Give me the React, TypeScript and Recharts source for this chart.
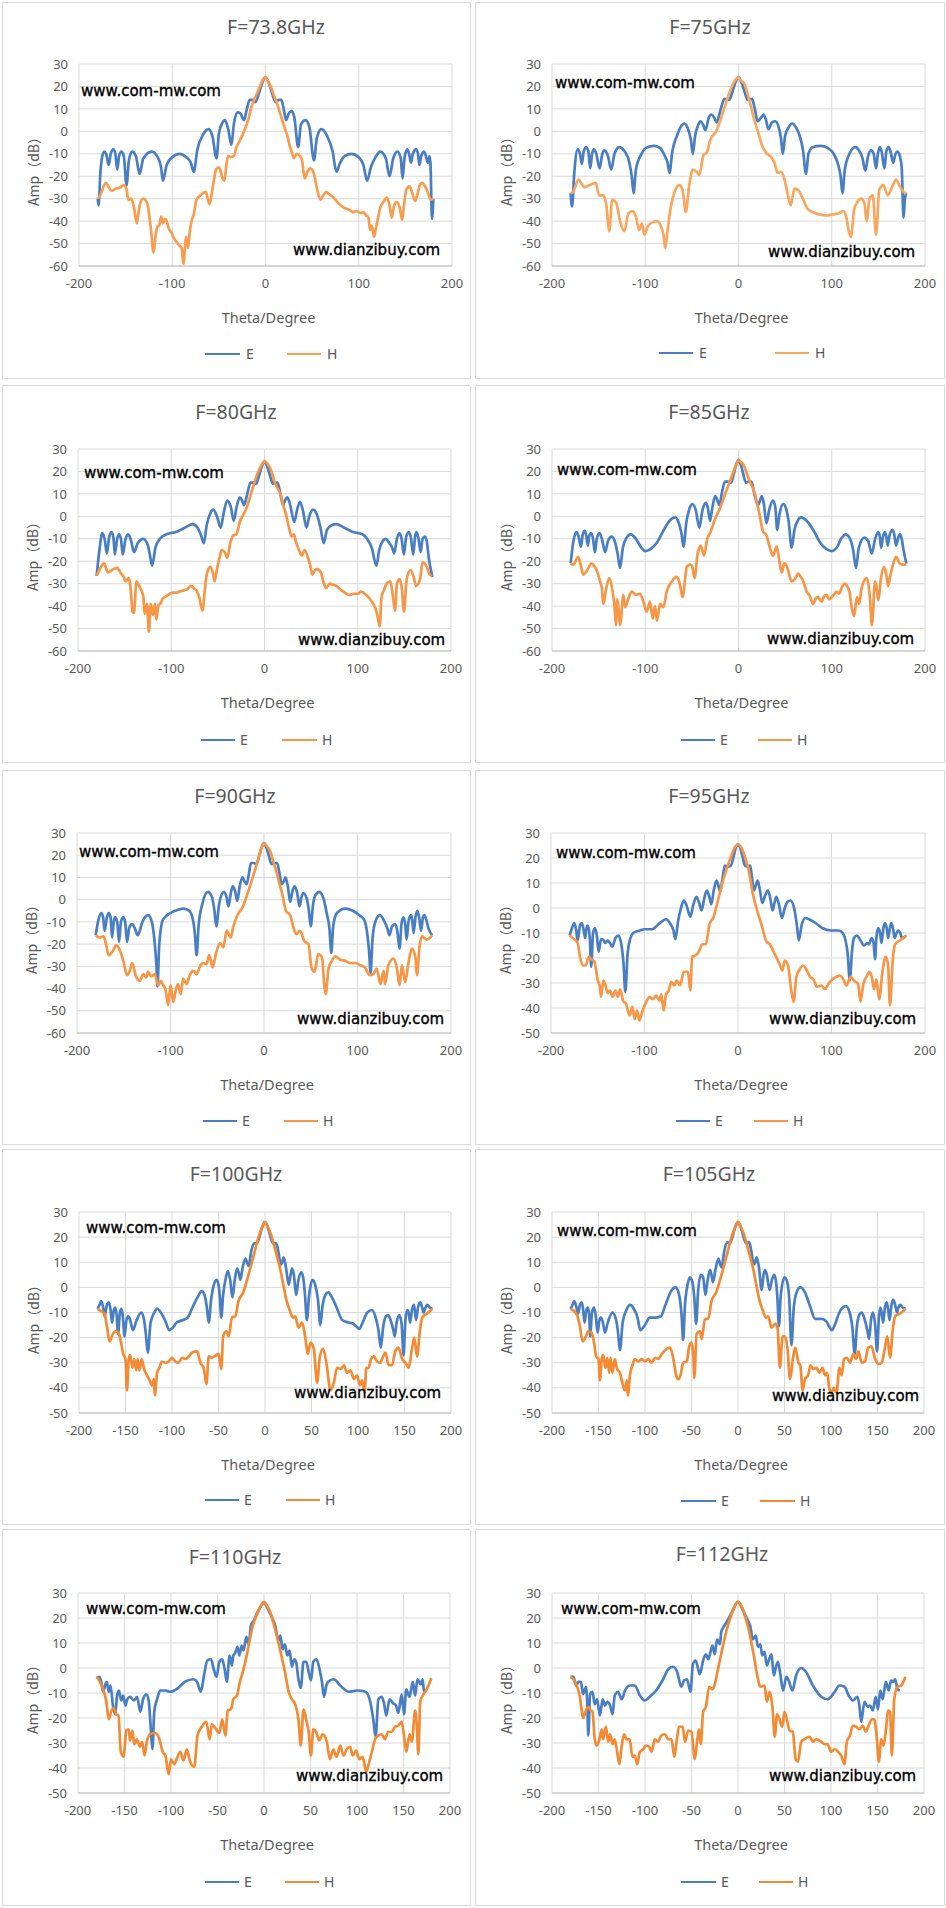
import React from 'react';
import { LineChart, Line, XAxis, YAxis, CartesianGrid } from 'recharts';

type Pt = [number, number];

// ---------- DATA (theta in degrees, amplitude in dB) ----------
const e738: Pt[] = [[-180,-30],[-179,-33],[-177,-18],[-175,-11],[-173,-9],[-171,-10],[-168,-15],[-166,-10],[-163,-8],[-161,-10],[-159,-17],[-157,-11],[-154.5,-9],[-152,-11],[-149,-24],[-146.5,-13],[-143,-9],[-139,-11],[-135,-19],[-131,-12],[-122,-9],[-115,-12],[-112,-16],[-110,-22],[-106,-15],[-100,-11.5],[-92,-10],[-85,-11.5],[-80,-14],[-77,-18],[-73,-8],[-67,-1.5],[-61,1],[-57,-2],[-52.5,-12],[-50,-1],[-46,4],[-43.5,5],[-40,1],[-36.5,-6],[-34,3],[-30,8.5],[-27,8],[-23,5],[-20,10],[-17,14],[-14,14],[-11,13],[-7,17],[-4,21],[0,24],[4,21],[7,17],[11,13],[14,14],[17,14],[19.5,10],[22,5],[25,8],[28,9],[31,6],[35,-7],[38,3],[43,5],[47,2],[52,-13],[55,-3],[60,1],[66,-2],[72,-9],[76,-18],[80,-14],[85,-11],[92,-10],[100,-11.5],[105,-15],[109,-22],[113,-16],[118,-11.5],[123,-9],[129,-12],[133,-20],[137,-12],[141.5,-9],[145,-12],[147,-21],[149,-12],[152,-8],[154,-10],[156,-14],[158,-10],[161.5,-8],[163.5,-10],[165,-15],[167,-11],[170,-9],[172,-11],[174,-14],[176,-11],[177,-15],[178.5,-39],[180,-30]];
const h738: Pt[] = [[-180,-30],[-178,-29],[-171,-23],[-168,-25],[-165,-26.5],[-160,-25.5],[-156,-25],[-152,-24],[-149,-26],[-147,-30.5],[-144,-30],[-141,-34],[-138,-41],[-135,-33],[-131,-30],[-128,-31],[-126,-33.5],[-123,-43],[-120,-54],[-118,-47],[-116,-42.5],[-114,-42],[-112,-38],[-110,-41],[-108,-39],[-106,-40],[-104,-43],[-101,-45],[-99,-47],[-96,-49],[-92,-51],[-90,-52],[-88,-59],[-86,-50],[-85,-47],[-83,-52],[-81,-44],[-79,-39.5],[-77,-37],[-74,-30.5],[-71,-29],[-67,-27.5],[-64,-27],[-62,-30],[-60,-32.5],[-57,-26],[-55,-21],[-53,-17],[-50,-16],[-48,-18],[-46,-21],[-44,-22],[-42,-15],[-40,-11],[-37,-11.5],[-34,-11],[-31,-7],[-28,-4.5],[-25,-2],[-22,1],[-18,6],[-15,11],[-10,16],[-6,20],[-2,23.5],[0,24],[3,22],[6,19.5],[9,16],[12,13],[15,9],[18,5],[21,1],[23.5,-2],[26,-6.5],[28,-9],[30.5,-12],[33.5,-10],[36,-10.5],[39,-12.5],[42,-21],[45,-18],[48,-16.5],[50,-17],[52,-19],[55,-25],[59,-30.5],[62,-28.5],[65,-27],[68,-28],[73,-29.5],[78,-32],[84,-34],[90,-35],[94,-36],[98,-35.5],[102,-36.5],[105,-36],[108,-37.5],[110.5,-38.5],[112,-44],[114,-42],[116.5,-47],[118,-44],[120,-40],[123,-34],[126.5,-31.5],[130,-29.5],[133,-33],[135.5,-38.5],[138,-33],[141,-31.5],[144,-34],[146.5,-39.5],[148.5,-33],[151,-26],[154.5,-24.5],[157,-27],[160.5,-31],[163,-28],[166,-23.5],[168,-23],[171,-24.5],[174,-27],[177,-30.5],[180,-30]];

const e75: Pt[] = [[-180,-27.5],[-178.5,-33.5],[-176,-18],[-172.5,-8],[-170,-10],[-168,-14.5],[-166,-9],[-163.5,-7],[-161,-9],[-159,-16.5],[-157,-10],[-155,-8],[-152.5,-10],[-149,-16.5],[-146,-10],[-144,-8.5],[-140,-11],[-136.5,-17],[-133,-10],[-128,-7],[-122,-9],[-117,-14],[-114.5,-20],[-112.5,-27.5],[-110,-17],[-104,-10],[-97,-7],[-90,-6.5],[-84,-7.5],[-79,-11],[-76,-14],[-74,-18.5],[-71,-9],[-66,-2],[-62,2],[-58,3.5],[-54,1],[-51,-4],[-49,-10],[-46.5,-2],[-43,3],[-41,4.5],[-38,3],[-35.5,0.5],[-32,6],[-29,7.5],[-26,6],[-23.5,4],[-19,10],[-15,14.5],[-10,14],[-7,17],[-3.5,21.5],[0,24],[3.5,21.5],[7,17],[10,14],[14.5,14.5],[17.5,10],[20.5,4.5],[24,6],[27,7.5],[29.5,5],[32,1],[36,4],[39.5,4.5],[43,2],[45.5,-3],[47.5,-10],[50,-2],[54,2],[57.5,3.5],[62,1.5],[66,-2.5],[69,-8],[72.5,-19],[75,-10],[80,-7],[88,-6.5],[96,-7.5],[102,-10],[107,-15],[109.5,-20],[111.5,-27.5],[114,-17],[119,-10],[125,-7],[130,-9],[133,-12],[136,-17.5],[139,-11],[142,-8.5],[145,-10],[147.5,-16.5],[149.5,-10],[151.5,-7],[153.5,-9],[156.5,-16.5],[158.5,-9],[161,-7],[163,-9],[166,-14],[168,-10.5],[170.5,-9],[173,-11],[175,-16],[177,-38.5],[178.5,-30],[180,-27.5]];
const h75: Pt[] = [[-180,-27.5],[-177.5,-27],[-171.5,-21.5],[-168,-23.5],[-165.5,-25],[-160,-24],[-153,-23],[-149.5,-28.5],[-145,-28.5],[-142,-32],[-138.5,-44.5],[-135.5,-30.5],[-131.5,-31.5],[-127,-40],[-122.5,-44.5],[-118,-36.5],[-113.5,-35.5],[-110,-38],[-106.5,-44],[-103.5,-41],[-101,-46],[-97.5,-42.5],[-92,-40.5],[-87,-40],[-83,-42.5],[-80.5,-46],[-78.5,-52],[-76,-44],[-72.5,-33.5],[-69,-27.5],[-63.5,-24],[-60,-26],[-56.5,-36],[-53,-24.5],[-49,-17],[-45,-18],[-42,-19.5],[-37.5,-10.5],[-34,-9.5],[-30.5,-4],[-24,0],[-17,8],[-10,17],[-4,22.5],[0,24],[3,22.5],[6.5,21],[11.5,14],[17,5],[21.5,-1],[25,-6],[29.5,-9.5],[34,-11],[38.5,-14],[42,-18.5],[45.5,-18],[49,-21],[52.5,-27.5],[56,-33],[60,-25.5],[63.5,-26],[69,-30],[74,-34.5],[79.5,-36],[86.5,-37],[94,-37.5],[101,-37],[108,-36.5],[112.5,-35.5],[115.5,-38],[118,-44],[120.5,-47],[124,-35],[127.5,-31.5],[131.5,-30],[135,-32],[137.5,-40],[140.5,-30],[144,-28.5],[147.5,-46],[151,-26],[155.5,-24],[160,-28.5],[165.5,-24],[169,-21.5],[173,-24.5],[177,-27],[180,-27.5]];

const e80: Pt[] = [[-180,-26.5],[-177,-15],[-174,-7.5],[-171.5,-10],[-169,-16.5],[-166.5,-9],[-164,-7],[-162,-9.5],[-160.5,-17],[-158,-10],[-156,-8],[-154,-10],[-152,-17],[-149,-10],[-146,-8],[-143,-11],[-140,-16],[-136,-12],[-130,-10],[-125,-13],[-123,-17],[-120.5,-22],[-117,-14],[-112,-10],[-105,-8],[-95,-7],[-85,-5],[-77,-3.5],[-72,-5],[-68,-8.5],[-65,-12],[-62,-4],[-58,1.5],[-55,3],[-51,0],[-47,-5],[-44,1],[-40,7],[-36,4],[-33,-2],[-30,4],[-26.5,8.5],[-24,7],[-22,5],[-19,9],[-15,15],[-12,15],[-9,14.5],[-6,18],[-3,22],[0,24.5],[3,22],[6,18],[9,14.5],[11.5,15],[14,15],[17,10],[20,5],[22,7],[24.5,8.5],[27,6],[32,-2.5],[35,3],[38,6.5],[41,3],[45,-5],[48,0],[52,3],[56,1],[60,-5],[63.5,-12],[67,-6],[72,-4],[77,-3.5],[85,-5],[95,-7],[105,-8],[110,-10],[115,-14],[120,-22],[123,-15],[126,-11.5],[130,-10],[134,-12],[137,-14],[139,-16.5],[142,-10],[145,-7.5],[147,-10],[149.5,-17],[152,-9],[155,-7],[157,-9.5],[159.5,-17],[161.5,-9],[163,-7],[165,-9.5],[167.5,-16],[169.5,-10],[172,-9],[174,-11],[176,-18],[180,-27]];
const h80: Pt[] = [[-180,-26.5],[-176,-23],[-172,-21],[-168,-25],[-164,-24],[-158,-23],[-154.5,-25],[-151,-27],[-149,-29],[-145.5,-27.5],[-143,-35],[-141.5,-42.5],[-140,-43],[-138.5,-35],[-137.5,-29],[-134.5,-31],[-130,-35.5],[-128.5,-43.5],[-126,-39],[-124,-51.5],[-122,-39],[-119.5,-44],[-117.5,-39],[-116,-46],[-114,-40],[-111,-38.5],[-109,-36.5],[-105,-35.5],[-101.5,-34.5],[-98,-34],[-94.5,-34],[-91,-33.5],[-87,-33],[-83,-32.5],[-78.5,-31],[-76,-32],[-73,-33],[-70,-36],[-66.5,-42],[-64,-33],[-62,-26],[-58,-22.5],[-55,-26],[-53.5,-29],[-51,-23.5],[-48,-18],[-46,-15],[-42.5,-16],[-40,-18.5],[-36.5,-11.5],[-33.5,-8.5],[-30,-8],[-26.5,-2.5],[-23,0.5],[-19.5,3.5],[-16,8],[-12,13.5],[-7,19.5],[-3,23],[0,24.5],[3,23.5],[6,21.5],[9,18],[11,15],[14,12.5],[17.5,9.5],[20,5],[23,1],[26.5,-5.5],[29,-9],[31.5,-8],[33.5,-11],[35.5,-13.5],[38,-16],[40,-17.5],[43,-15],[47,-19],[49,-22],[51.5,-26],[54,-24],[56.5,-23.5],[60.5,-25],[63,-29],[66,-32],[70,-30],[73,-30.5],[77,-31],[81,-32.5],[84.5,-33.5],[88,-34.5],[91.5,-35],[96,-34.5],[100.5,-34.5],[103,-33.5],[106,-34],[109,-35],[112.5,-36.5],[116.5,-39],[119,-41],[121,-44],[123.5,-49],[125.5,-36],[128,-33],[131,-30],[135,-29],[137.5,-35],[140,-42],[142,-30],[145,-28],[147.5,-33],[149.5,-42.5],[152.5,-28],[156.5,-24],[160,-27],[162.5,-31],[165,-30],[167,-27.5],[169.5,-20.5],[172,-21],[174.5,-23],[177,-26],[180,-26.5]];

const e85: Pt[] = [[-180,-21],[-177,-11],[-174,-7],[-171.5,-9],[-169,-13.5],[-167,-8],[-165,-6.5],[-163.5,-8],[-161.5,-13],[-160,-8.5],[-158,-7.5],[-156,-10],[-154,-16],[-152,-10],[-149,-7.5],[-146.5,-10],[-143,-16],[-140,-11],[-136,-9],[-132,-12],[-129.5,-17],[-127,-23],[-124,-14],[-120,-9.5],[-115.5,-8],[-110,-10],[-105,-13.5],[-100,-15.5],[-94,-14.5],[-88,-12],[-80,-6],[-74,-2],[-68,-0.5],[-64,-3],[-61,-8],[-59,-13.5],[-56,-3],[-52,4],[-49.5,5.5],[-46,3],[-42,-5],[-38.5,3],[-35,6],[-33,4],[-30.5,-2],[-28,4],[-25,9],[-22.5,7],[-20.5,5],[-18,10],[-14.5,15.5],[-11,15.5],[-8,15],[-5,19],[-2.5,23],[0,25],[2.5,23],[5,19],[8,15],[11,15.5],[14,15.5],[17,10],[21,5],[23,7],[25,9],[27,6],[30,-3],[33,3],[37,7],[39.5,4],[41.5,-6],[44,1],[48,5.5],[51,3.5],[54,-3],[57,-14],[60,-6],[64,-1.5],[67,-0.5],[73,-2],[80,-6],[88,-12],[94,-14.5],[100,-15.5],[106,-13.5],[110,-10],[115,-8],[119,-9.5],[123,-15],[126,-23],[129,-14],[135,-9.5],[139,-11],[143,-16.5],[146.5,-10],[150,-7],[151.5,-9],[153,-14],[155,-9],[157,-7],[158.5,-9],[160,-13],[162,-8.5],[165,-6],[167,-8],[169,-13],[171,-10],[173,-8],[175,-10],[177,-15],[180,-21]];
const h85: Pt[] = [[-180,-21],[-177,-21.5],[-172,-18],[-169,-22],[-166.5,-26],[-163,-24.5],[-157.5,-21],[-155,-22],[-152,-24],[-148.5,-29],[-146.5,-32],[-145,-39],[-142,-32.5],[-138.5,-27.5],[-135,-33.5],[-133,-40],[-131.5,-48.5],[-130,-37],[-128.5,-42],[-127,-48.5],[-123.5,-35],[-121.5,-40.5],[-118,-36.5],[-114.5,-33.5],[-110,-35],[-105.5,-34.5],[-102,-38],[-98.5,-42.5],[-95,-38],[-92,-45.5],[-89.5,-40],[-87.5,-46.5],[-84,-39],[-80.5,-40.5],[-77,-33.5],[-71.5,-29],[-66,-27],[-63,-30],[-60,-36],[-57,-27],[-55.5,-22.5],[-52,-21.5],[-50,-22],[-47,-27.5],[-44,-17],[-40.5,-13],[-37,-17.5],[-33.5,-10],[-30,-7],[-25,-1],[-20,3.5],[-16,8],[-12.5,12],[-8,17],[-5,20.5],[-2,23.5],[0,25],[3,24],[6,22.5],[9,19],[11.5,16],[15,13],[17.5,10],[20,5.5],[22.5,1],[26,-6.5],[30,-8.5],[34,-14.5],[37,-17.5],[41,-13.5],[44,-20.5],[46.5,-25],[49,-21],[52,-22.5],[54.5,-26],[57,-29],[60.5,-28],[64,-25.5],[66,-26.5],[69.5,-29],[73,-33.5],[76,-35],[80,-39],[83,-36.5],[85.5,-36],[89,-38],[92,-35.5],[94.5,-35],[97,-37],[100,-36],[103,-34.5],[105,-33.5],[108,-34.5],[110.5,-32],[114,-30],[117,-31.5],[119,-33.5],[121.5,-41],[124,-44.5],[127,-36],[129.5,-39],[132,-32],[137.5,-27.5],[141,-36.5],[143,-48.5],[146.5,-29],[148.5,-33],[150,-37.5],[152.5,-28.5],[156,-22.5],[158.5,-26],[160.5,-31],[163,-26],[166,-21],[169,-18],[173,-21],[176,-21.5],[180,-21.5]];

const e90: Pt[] = [[-180,-16],[-177,-9],[-174,-6],[-172,-8],[-170.5,-14],[-168,-8],[-166,-6],[-164,-8],[-162.5,-17],[-160.5,-9.5],[-159,-8],[-157,-10],[-155,-19],[-153,-10],[-150.5,-8],[-148.5,-10],[-146.5,-19],[-144,-12.5],[-141,-11],[-138,-13],[-135,-16],[-130,-10],[-124,-7],[-120,-10],[-117,-19],[-115,-30],[-114,-39],[-112,-20],[-108,-9],[-100,-6],[-92,-4.5],[-86,-4],[-80,-5],[-76,-9],[-74,-15],[-72,-25],[-70,-12],[-66,-2],[-60,3.5],[-56,1.5],[-53,-5],[-51,-12],[-48,-2],[-43,3.5],[-40,1],[-38,-3],[-35.5,3],[-33.5,6],[-31,4],[-28.5,-0.5],[-26,6],[-23,10],[-20.5,8],[-18.5,7],[-16,12],[-14,16.5],[-11,16.5],[-8,16],[-5,20],[-2.5,23.5],[0,25.5],[2.5,23.5],[5,20],[8,16],[11,16.5],[14,16.5],[16.5,12],[19,7],[21,8],[23,10],[25.5,6],[28,-1],[30.5,4],[33,6],[35.5,3],[38,-3],[40,1],[42,3],[46,0],[48,-5],[50,-12],[52.5,-2],[55,2],[59,3.5],[64,0],[67,-6],[70,-13],[72,-24],[74,-12],[78,-6],[87,-4],[95,-5],[102,-7],[107,-9],[110,-14],[112.5,-24],[114,-33],[116,-18],[119,-10],[124,-7],[129,-10],[132,-13],[134,-16],[137,-12],[140,-11],[142.5,-14],[145,-22],[147,-11],[149,-8],[151,-11],[152.5,-18],[154.5,-10],[157,-7],[158.5,-9],[160,-15],[162,-8],[164,-5],[166,-8],[168,-14],[170,-8],[171.5,-7],[173.5,-9],[176,-13],[180,-16]];
const h90: Pt[] = [[-180,-16],[-176,-17],[-171.5,-16.5],[-169,-20],[-166,-25],[-161.5,-23],[-158,-20.5],[-154,-23],[-150.5,-27.5],[-146.5,-34],[-143.5,-32],[-141,-28.5],[-137,-34.5],[-133,-36.5],[-129,-33.5],[-126,-35],[-124,-32.5],[-120.5,-34.5],[-117,-33.5],[-113,-38.5],[-110,-36.5],[-108.5,-38],[-105,-41],[-102.5,-47.5],[-100,-38.5],[-97,-46],[-94.5,-41],[-92,-38],[-89,-42.5],[-86.5,-35.5],[-83,-38],[-79,-33.5],[-75.5,-32],[-72,-33.5],[-68.5,-30],[-65,-28.5],[-61.5,-29],[-58.5,-25],[-55,-30.5],[-51.5,-24.5],[-47,-19.5],[-43.5,-21.5],[-40,-14],[-35.5,-17],[-33,-12.5],[-28.5,-7],[-23,-3.5],[-17,3.5],[-11,11.5],[-5,20],[-2,24],[0,25.5],[3,24],[6.5,22],[10,17],[13,13],[16,8],[19,3.5],[23.5,-5],[28,-7],[31.5,-12.5],[34.5,-15.5],[38.5,-14],[43,-18.5],[47.5,-20],[51,-31],[54,-32.5],[58,-24.5],[62,-26],[64.5,-38.5],[66,-42.5],[69,-31],[72.5,-27.5],[76,-25.5],[81.5,-27],[87,-27.5],[92,-28.5],[97.5,-28.5],[103,-29.5],[108,-30.5],[113,-34],[117,-33.5],[120.5,-31],[124.5,-38],[128,-32],[129.5,-38],[133,-29.5],[138.5,-26.5],[142,-30.5],[145,-38.5],[147.5,-29.5],[151,-37],[154.5,-28.5],[158,-22],[162,-26],[163.5,-34],[166.5,-20.5],[169,-16.5],[174,-18],[180,-16]];

const e95: Pt[] = [[-180,-11],[-177.5,-8],[-175,-6],[-173,-9],[-171.5,-13],[-169,-7],[-167,-6],[-165,-9],[-163.5,-12],[-162,-8],[-160.5,-7],[-158.5,-12],[-157,-23.5],[-155,-10],[-153,-8],[-151,-11],[-149,-17.5],[-146.5,-12.5],[-144.5,-12.5],[-142,-14],[-139.5,-13],[-137,-14],[-134.5,-15.5],[-131,-12],[-128,-11],[-125,-14],[-122.5,-22],[-120.5,-33.5],[-118,-18],[-115,-12],[-112,-10],[-105,-9],[-100,-8.5],[-92,-8.5],[-85,-6.5],[-77,-4.5],[-72,-6.5],[-69,-9],[-67,-12.5],[-64,-5],[-61,0],[-58,3],[-55,1],[-51,-3.5],[-48,1],[-44.5,4.5],[-41.5,2],[-39,-1],[-36,4],[-33.5,7],[-31,5],[-28.5,1.5],[-26,7],[-23,11],[-21,9],[-19,6.5],[-16.5,12],[-14,17],[-11,16.5],[-7.5,17],[-4.5,21],[-2,24.5],[0,25.5],[2,24.5],[4.5,21],[7.5,17],[10.5,16.5],[13,17],[15,12],[17,7],[19,9],[21,11],[23.5,7],[26,2],[29,5],[32,7],[34.5,4],[37,-1],[39,2],[41,4.5],[44,1],[47,-4],[50,0],[53,2.5],[56,3],[60,0],[63,-7],[65,-13],[68,-7],[72,-4],[76,-4.5],[83,-6],[90,-8],[100,-9],[108,-9],[112,-10],[115,-13],[117.5,-19],[119.5,-29],[122,-17],[124,-12],[127,-11],[131,-13],[135,-15],[138,-14],[140,-14.5],[143,-12],[145,-14],[146.5,-20.5],[148,-12],[150,-8],[152,-10],[153.5,-14],[155.5,-8],[157.5,-6],[159,-8],[160.5,-12],[162.5,-8],[164,-6],[166,-8.5],[167.5,-12],[169.5,-10],[171.5,-9],[173.5,-10],[175.5,-12],[180,-11]];
const h95: Pt[] = [[-180,-11],[-177,-12],[-171.5,-14],[-169,-19.5],[-166,-23],[-163,-23],[-159.5,-19.5],[-157,-20.5],[-153.5,-21.5],[-150,-29],[-148,-31],[-146.5,-35.5],[-144,-29],[-142,-30.5],[-139.5,-34],[-137,-33],[-134,-35.5],[-131,-33],[-128.5,-35.5],[-126,-32.5],[-123,-37],[-119.5,-38.5],[-116,-43],[-113,-39.5],[-110.5,-44.5],[-108,-41],[-105.5,-45],[-102,-41],[-98,-37.5],[-94.5,-35.5],[-91,-36.5],[-87.5,-35],[-84,-37],[-82,-34.5],[-79.5,-41],[-77,-34.5],[-74,-33],[-71.5,-29.5],[-68,-31],[-65.5,-29],[-62,-31],[-58,-25.5],[-53.5,-25.5],[-51,-33],[-49,-19.5],[-45.5,-19],[-42,-17.5],[-38,-14.5],[-34.5,-14.5],[-30.5,-6.5],[-26,-3.5],[-21.5,3],[-16,11],[-9,19],[-3,24.5],[0,25.5],[3,24.5],[5.5,22.5],[10.5,16.5],[13,12],[16,5.5],[20.5,-1],[25,-6.5],[30.5,-13.5],[34,-14.5],[37.5,-17],[42,-20.5],[44.5,-22.5],[47.5,-25],[50,-21],[53.5,-23],[57,-33],[59.5,-37.5],[62.5,-27.5],[66,-24.5],[69.5,-23],[73,-24.5],[77,-27.5],[80.5,-28.5],[84.5,-31.5],[89,-31],[93,-32.5],[96.5,-30.5],[101,-28.5],[105.5,-27.5],[109,-27],[112.5,-28.5],[116,-31],[120.5,-27.5],[124,-29],[128.5,-30.5],[131,-37.5],[134,-30.5],[137.5,-27.5],[140.5,-25.5],[143,-27.5],[145.5,-32.5],[148,-28.5],[151,-36.5],[154.5,-25.5],[158,-19.5],[160.5,-22.5],[162.5,-39],[165.5,-21],[168,-14.5],[173,-13],[177,-12],[180,-11]];

const e100: Pt[] = [[-180,-8.5],[-178,-7],[-176,-5.5],[-174,-8],[-172.5,-11.5],[-170,-7],[-168,-6],[-166,-9],[-164.5,-14],[-162.5,-9],[-161,-8],[-159.5,-11],[-158,-18.5],[-156,-10],[-154.5,-8.5],[-153,-11],[-151,-19.5],[-149,-13],[-147,-11.5],[-145,-13],[-142,-17],[-138,-13],[-133,-10],[-130,-13],[-128,-19],[-126,-26],[-123,-14],[-119,-10],[-116,-8.5],[-112,-10],[-107,-13.5],[-103,-17],[-99,-16],[-95,-14],[-88,-13],[-83,-12],[-78,-8],[-72,-3.5],[-68,-1.5],[-65,-3],[-62.5,-8],[-60.5,-14],[-58,-5],[-55,1],[-52,3],[-50,1],[-48.5,-4],[-47,-12],[-45,-3],[-42,4],[-40,6.5],[-37.5,3],[-35,-4],[-32.5,3],[-30,7.5],[-28,5.5],[-26.5,3],[-24,8],[-21,11.5],[-19,9.5],[-17.5,8.5],[-15,14],[-11.5,17.5],[-9,17.5],[-6,20],[-3,24],[0,26],[3,24],[6,20],[9,17.5],[12,17.5],[14.5,14],[17,9],[18.5,10],[20,12],[22.5,8],[25.5,1],[27.5,5],[29,7.5],[31,5],[33.5,-3],[36,3],[39,6],[41,4],[43,-3],[45,-13],[47.5,-3],[51,3],[54,1],[57,-5],[59.5,-15],[62,-7],[65,-3],[68,-2],[72,-4],[77,-8],[83,-13],[90,-14],[95,-14.5],[98,-15.5],[101.5,-16.5],[105,-14],[110,-10],[115,-9],[119,-12],[122,-17],[124.5,-24],[127,-16],[130,-11.5],[132.5,-11],[135,-13],[138,-17],[139.5,-19.5],[141.5,-14],[144.5,-11],[147,-15],[149,-27],[151,-13],[153,-9],[154.5,-10],[156,-14],[158,-9],[160,-7],[161,-9],[162.5,-13],[164.5,-8],[167,-6],[169,-8],[170.5,-10],[172.5,-8],[174.5,-7],[177,-8],[180,-8.5]];
const h100: Pt[] = [[-180,-8.5],[-176,-9.5],[-172.5,-10.5],[-170,-15.5],[-167,-21.5],[-163.5,-18.5],[-161,-17.5],[-157.5,-18],[-155,-21.5],[-152.5,-26.5],[-150,-28.5],[-148.5,-41],[-146.5,-28.5],[-145,-27],[-142.5,-32],[-140.5,-28.5],[-138.5,-33],[-137,-28.5],[-135,-33],[-132.5,-28.5],[-130,-32.5],[-127,-35],[-124,-37],[-121.5,-39],[-119.5,-36.5],[-118.5,-43],[-116,-34],[-113.5,-32],[-111,-29.5],[-107,-30],[-103.5,-29.5],[-100,-28],[-96.5,-29.5],[-93,-30],[-89,-28],[-85.5,-28.5],[-82,-27.5],[-78.5,-26],[-73,-25.5],[-69.5,-30],[-66,-32],[-63,-38.5],[-60.5,-27.5],[-57,-28],[-52.5,-27],[-50,-26.5],[-47,-32.5],[-45,-19.5],[-41.5,-17.5],[-39,-19.5],[-35.5,-12],[-32,-11.5],[-28.5,-5.5],[-23.5,-2],[-18.5,4],[-13,11.5],[-7,20],[-3,24],[0,26],[3,24],[6,21.5],[11,15],[16.5,7],[20,0.5],[23,-5],[26.5,-9],[30,-12],[32.5,-11.5],[36,-16],[40,-14],[43.5,-20.5],[46,-26.5],[49,-22],[52.5,-24.5],[56,-38],[59,-27.5],[62.5,-24.5],[66,-30],[70.5,-41],[74,-38],[77.5,-32],[81.5,-32.5],[85,-31],[88,-34],[92,-33],[95.5,-36.5],[99,-35],[102,-39],[104.5,-37],[107,-42],[109,-32],[111.5,-32],[114,-28.5],[117,-27.5],[120.5,-29.5],[124,-30],[127,-27.5],[129.5,-26],[133,-31],[136.5,-31],[140,-25.5],[143.5,-24],[147.5,-28.5],[151,-30],[154.5,-32],[158,-24.5],[160.5,-20],[163.5,-27.5],[166.5,-17.5],[169,-12],[174,-10.5],[180,-8.5]];

const e105: Pt[] = [[-180,-8.5],[-178,-7],[-176,-5.5],[-174,-7.5],[-172,-10.5],[-170,-7],[-168,-6],[-166.5,-9],[-165,-14],[-163,-9],[-161.5,-8],[-160,-11],[-159,-19.5],[-157,-10],[-155,-8],[-153,-11],[-151,-18],[-149,-13],[-147.5,-12],[-145.5,-13.5],[-143,-18],[-140,-14],[-135,-10],[-131,-13],[-129,-18],[-127,-25],[-124,-14],[-120,-9],[-116,-7],[-112,-8.5],[-108,-12],[-105,-17],[-100,-15],[-95,-12],[-88,-12],[-83,-11.5],[-78,-7],[-72,-1.5],[-67,0],[-64,-2],[-62,-6],[-60.5,-12],[-59,-21],[-57,-7],[-54,1.5],[-51.5,4],[-49,2],[-47,-4],[-45,-14.5],[-43,-2],[-40,5],[-37.5,4],[-35,-3],[-33,2],[-30,7],[-28.5,5],[-27,2],[-24,7.5],[-21,11.5],[-19,9],[-17.5,8],[-15,14],[-11.5,18],[-9,17.5],[-6,20],[-3,24],[0,26],[3,24],[6,20],[9,17.5],[12,18],[14.5,14],[17,9],[18.5,10],[20,12],[22.5,8],[25.5,-1],[27.5,5],[29,7],[31,5],[34,-1],[36.5,3],[39,5],[41,2],[42.5,-5],[44,-15.5],[46,-3],[50,4],[53,2],[55,-4],[57.5,-23],[60,-8],[63,-2],[67,0],[72,-2],[77,-7],[83,-12.5],[90,-12.5],[95,-13.5],[98,-15.5],[101,-17],[104,-15],[109,-10],[116,-7.5],[120,-10],[123,-16],[125.5,-26.5],[128,-15],[131,-10.5],[133,-10],[136,-12.5],[139,-17],[141,-20.5],[143,-13],[145,-10],[147.5,-15],[149.5,-25.5],[151.5,-12],[153,-8],[154.5,-10],[156,-14],[158,-8],[160,-6],[161.5,-9],[163,-13],[165,-7],[167,-5],[169,-7],[171,-10],[172.5,-8],[174.5,-7],[177,-8],[180,-8.5]];
const h105: Pt[] = [[-180,-8.5],[-176,-9.5],[-172.5,-11.5],[-170,-15.5],[-167,-21.5],[-163.5,-19.5],[-161,-17.5],[-157.5,-18],[-155,-21.5],[-152.5,-27.5],[-150,-28.5],[-148.5,-37],[-146.5,-28.5],[-145,-27],[-142.5,-32],[-140.5,-28],[-138.5,-34],[-137,-28],[-135,-34],[-132.5,-28.5],[-130,-32.5],[-127,-34],[-124,-38.5],[-121.5,-41],[-119.5,-37],[-118.5,-43],[-116,-34.5],[-113.5,-31],[-111,-28.5],[-107,-29.5],[-103.5,-28.5],[-100,-29.5],[-96.5,-28.5],[-93,-30],[-89,-28],[-85.5,-28.5],[-82,-26.5],[-78.5,-25],[-73,-24],[-69.5,-28.5],[-66.5,-35],[-64,-36.5],[-61.5,-34.5],[-59,-30],[-55,-29.5],[-52.5,-23.5],[-50,-22],[-48,-27],[-47,-36],[-44.5,-18.5],[-41,-17.5],[-39,-20.5],[-35.5,-12.5],[-32,-12.5],[-28.5,-5.5],[-23.5,-2],[-18.5,4],[-13,11.5],[-7,20],[-3,24],[0,26],[3,24],[6,21.5],[11,15],[16.5,7],[20,0.5],[23,-5],[26.5,-9],[30,-12],[32.5,-11.5],[36,-16],[40,-14.5],[42.5,-16],[45,-32],[48,-19.5],[50.5,-19.5],[53,-23.5],[56,-36.5],[59,-28.5],[61.5,-24],[65,-30],[67,-31],[69.5,-41],[72,-36.5],[75.5,-35],[78,-31],[81,-32.5],[84.5,-32],[87.5,-34],[91,-32],[93.5,-35],[96,-34],[98,-40],[100.5,-42],[103,-40],[106,-42],[109,-32],[111.5,-35],[114,-28.5],[117,-28],[120.5,-30],[124,-26.5],[127,-28.5],[129.5,-25.5],[133,-30],[136.5,-29.5],[140,-24],[143.5,-23.5],[147.5,-28.5],[151,-30.5],[154.5,-30],[158,-24],[160.5,-19.5],[163.5,-28],[166.5,-16.5],[169,-11.5],[174,-10.5],[180,-8.5]];

const e110: Pt[] = [[-180,-4],[-177,-3.5],[-175,-5.5],[-173,-9.5],[-170.5,-6.5],[-169,-5.5],[-167,-9.5],[-165,-7],[-162.5,-15],[-160,-18.5],[-158,-11],[-156,-9],[-153.5,-13],[-151.5,-11],[-149,-15],[-147.5,-13],[-144,-11.5],[-140,-13],[-136.5,-11.5],[-133,-17.5],[-130,-12.5],[-126.5,-10.5],[-124,-13],[-121.5,-25.5],[-120,-32.5],[-118,-17.5],[-115,-12.5],[-111.5,-9],[-106,-9],[-101,-9.5],[-94,-8.5],[-85,-5.5],[-76,-4.5],[-72,-5.5],[-68,-9.5],[-64.5,-3],[-61,3],[-57,3.5],[-54,-0.5],[-51,-3.5],[-48,2.5],[-45,3.5],[-42.5,0],[-40,-5.5],[-37,5],[-34.5,1],[-33,5],[-31,6],[-28.5,8.5],[-26.5,5],[-24,9],[-22,7],[-19,12.5],[-16.5,9.5],[-14,17],[-11,19],[-6,23],[0,26],[5,23],[10,19],[12,17],[15.5,11],[17.5,13],[20,7.5],[22.5,9.5],[25,5],[27.5,7],[30,0.5],[32.5,3.5],[34.5,2.5],[37,-4.5],[39.5,-8],[42.5,2.5],[45.5,2.5],[48,-1.5],[50.5,-5],[53,2.5],[56.5,3.5],[60,-1],[62.5,-6],[64.5,-11.5],[67,-7],[69,-5.5],[75,-4.5],[82,-7],[91,-9.5],[100,-9],[109,-9.5],[113.5,-12.5],[117.5,-20.5],[120,-27.5],[123,-12.5],[126.5,-11.5],[129,-14],[131.5,-19],[135,-12.5],[138.5,-14],[142,-15],[144.5,-18],[148,-10.5],[150.5,-18.5],[153,-8.5],[156.5,-11.5],[160,-5.5],[162.5,-11],[165,-4.5],[168.5,-6.5],[170.5,-4.5],[172,-9],[174.5,-9.5]];
const h110: Pt[] = [[-180,-3.5],[-176.5,-5.5],[-173,-8.5],[-169.5,-13.5],[-167,-20.5],[-164,-17],[-161.5,-16],[-159,-18.5],[-156.5,-19],[-154,-33.5],[-151,-35.5],[-148,-25],[-145.5,-24.5],[-144,-29],[-141.5,-25],[-139.5,-30.5],[-136.5,-28.5],[-133.5,-31.5],[-131,-29.5],[-128.5,-35],[-126,-29.5],[-122.5,-26.5],[-117,-26],[-112.5,-28.5],[-109,-33.5],[-106,-35],[-102.5,-42.5],[-100,-36.5],[-96.5,-38.5],[-93.5,-36],[-90,-33.5],[-86.5,-37],[-83,-32.5],[-79.5,-37.5],[-75,-39.5],[-71.5,-27],[-67,-23.5],[-62,-21.5],[-58.5,-28.5],[-56,-22.5],[-51.5,-24.5],[-48,-26],[-45,-20.5],[-41.5,-27],[-39,-17],[-35.5,-16.5],[-33,-12.5],[-29,-11],[-26.5,-6.5],[-22,-0.5],[-17.5,7],[-13,15.5],[-7.5,21.5],[-3,25],[0,26.5],[3,25],[6.5,22.5],[12,15.5],[17.5,7],[22.5,-1.5],[26.5,-9.5],[30,-12.5],[33.5,-14.5],[37,-20.5],[39.5,-31],[42.5,-16.5],[45.5,-21],[48,-25.5],[50.5,-35],[53,-24.5],[56,-25.5],[59.5,-29],[63,-26.5],[67.5,-29.5],[71,-36.5],[74.5,-32.5],[78,-35.5],[82,-31],[85.5,-35],[89,-32.5],[92.5,-31.5],[95.5,-35],[99,-33],[102.5,-36.5],[106,-35.5],[110,-41.5],[112.5,-38.5],[116,-33.5],[119.5,-28.5],[123,-27],[126.5,-26.5],[130,-28.5],[133.5,-25.5],[137.5,-25.5],[141,-23.5],[144.5,-23],[148,-21.5],[150.5,-27],[153,-33.5],[156.5,-26.5],[159,-29.5],[162.5,-17],[164,-21.5],[166,-34.5],[168,-13.5],[171.5,-10.5],[175,-8.5],[180,-4]];

const e112: Pt[] = [[-180,-3.5],[-177,-3.5],[-174,-7],[-171.5,-5.5],[-169,-5.5],[-166.5,-10.5],[-163.5,-7.5],[-162,-15],[-161,-27],[-159,-10.5],[-156.5,-9.5],[-154,-14.5],[-151.5,-12.5],[-148.5,-19],[-145.5,-12.5],[-143,-15],[-140.5,-13.5],[-137.5,-15],[-135,-18.5],[-132.5,-11],[-129,-9.5],[-125,-12.5],[-121.5,-9],[-116,-7],[-111,-7],[-105.5,-11],[-100,-13],[-95,-11.5],[-88,-9],[-80.5,-4.5],[-75,-0.5],[-70,0.5],[-65.5,-1.5],[-61,-7.5],[-58,-5],[-55,-4.5],[-51,-9.5],[-48.5,1.5],[-45.5,3],[-41,-2.5],[-37.5,3],[-34.5,5.5],[-32,3.5],[-29.5,6.5],[-27.5,9],[-25,5.5],[-22.5,11.5],[-19.5,9.5],[-18,14.5],[-14.5,17],[-10.5,19.5],[-5.5,23],[0,26.5],[5.5,23],[10.5,19],[13,17],[16,11.5],[19,13],[21.5,8.5],[24,9.5],[26,5],[28.5,6.5],[31,1],[33.5,3.5],[36,5.5],[38.5,-3],[40.5,0],[43,2.5],[45.5,-2.5],[48.5,-9],[52,-3.5],[54.5,-5],[58.5,-9],[62.5,-3],[68,0],[73,-1.5],[80.5,-7],[89.5,-11.5],[96.5,-12.5],[104,-9.5],[109,-7],[114.5,-7.5],[119,-11],[123.5,-13],[128.5,-11.5],[130.5,-15],[132.5,-21.5],[136,-13.5],[139.5,-15.5],[142,-15],[145,-17],[148,-11.5],[150.5,-16.5],[153,-9],[155.5,-12.5],[159,-5.5],[162,-9],[164.5,-5],[167,-5.5],[169,-4.5],[171.5,-8.5],[174,-9]];
const h112: Pt[] = [[-180,-3.5],[-177,-4.5],[-173.5,-7],[-170.5,-10.5],[-168,-17],[-166.5,-20],[-163.5,-17],[-161,-15.5],[-158.5,-17],[-156.5,-17.5],[-154,-28.5],[-152,-31],[-149,-28.5],[-146.5,-24.5],[-145,-28.5],[-142,-23.5],[-139.5,-29.5],[-137.5,-26.5],[-135,-30.5],[-132.5,-28.5],[-130,-33.5],[-127.5,-38.5],[-125,-31],[-122.5,-26.5],[-120,-28.5],[-116.5,-28.5],[-113.5,-35.5],[-111,-35],[-108.5,-38.5],[-105.5,-33.5],[-102,-32.5],[-99,-31],[-95.5,-31.5],[-93,-33.5],[-89.5,-28.5],[-86,-29.5],[-82.5,-27],[-78.5,-26.5],[-75,-28.5],[-71.5,-28.5],[-68.5,-35.5],[-66,-29.5],[-63.5,-23.5],[-59.5,-23.5],[-57,-29.5],[-53.5,-25],[-50,-25.5],[-46.5,-36.5],[-44,-29.5],[-42,-24.5],[-40,-30.5],[-37.5,-17.5],[-34.5,-15.5],[-31,-7.5],[-27.5,-8.5],[-25,-6.5],[-21.5,-0.5],[-17,7.5],[-12,15.5],[-6,22.5],[-2.5,25.5],[0,26.5],[2.5,25.5],[6,22.5],[12,14.5],[17,5],[21.5,-4.5],[24,-7.5],[28.5,-7],[31,-13.5],[34,-9.5],[37,-15.5],[39.5,-27.5],[42,-18.5],[44.5,-20.5],[47.5,-23.5],[50,-17.5],[52.5,-20.5],[55.5,-25],[59,-25.5],[62,-36.5],[64.5,-37.5],[68,-29.5],[71.5,-28.5],[77,-27.5],[80.5,-29.5],[84,-28.5],[89.5,-29.5],[93,-30.5],[96.5,-30.5],[100,-33.5],[104,-32.5],[107.5,-33.5],[111,-35],[114.5,-38.5],[117,-29.5],[120.5,-27],[123.5,-23],[127,-23.5],[130.5,-24.5],[134,-23],[137.5,-25.5],[140.5,-23],[144,-20.5],[146.5,-20.5],[149,-27],[151.5,-37.5],[154,-28.5],[156.5,-31],[159,-25],[161.5,-17],[163.5,-17.5],[165.5,-35],[168,-12.5],[171.5,-7.5],[175.5,-7],[180,-3.5]];

const yTicks60 = [-60, -50, -40, -30, -20, -10, 0, 10, 20, 30];
const yTicks50 = [-50, -40, -30, -20, -10, 0, 10, 20, 30];
const xTicks100 = [-200, -100, 0, 100, 200];
const xTicks50 = [-200, -150, -100, -50, 0, 50, 100, 150, 200];

// ---------- LAYOUT / STYLE ----------
const E_COLOR = '#4A7EC2';
const TXT = '#595959';
const GRID = '#D9D9D9';
const FONT = '"Noto Sans", "Noto Sans CJK SC", sans-serif';

type Cfg = {
  title: string; e: Pt[]; h: Pt[]; yTicks: number[]; xTicks: number[]; hColor: string;
  plot: [number, number, number, number]; frame: [number, number, number, number];
  titlePos: [number, number]; wm1: [number, number]; wm2: [number, number];
  leg: { y: number; e: [number, number, number]; h: [number, number, number] };
};

const panels: Cfg[] = [
  { title: 'F=73.8GHz', e: e738, h: h738, yTicks: yTicks60, xTicks: xTicks100, hColor: '#F89C4E',
    plot: [79, 64, 452, 266], frame: [2, 2, 471, 379], titlePos: [276, 27], wm1: [81, 91], wm2: [293, 250],
    leg: { y: 354, e: [205, 240, 246], h: [287, 321, 327] } },
  { title: 'F=75GHz', e: e75, h: h75, yTicks: yTicks60, xTicks: xTicks100, hColor: '#F9A75E',
    plot: [552, 64, 925, 266], frame: [475, 2, 945, 379], titlePos: [710, 27], wm1: [555, 83], wm2: [768, 252],
    leg: { y: 353, e: [659, 693, 699], h: [775, 809, 815] } },
  { title: 'F=80GHz', e: e80, h: h80, yTicks: yTicks60, xTicks: xTicks100, hColor: '#F79646',
    plot: [78, 449, 451, 651], frame: [2, 385, 471, 763], titlePos: [236, 412], wm1: [84, 473], wm2: [298, 640],
    leg: { y: 740, e: [201, 235, 240], h: [282, 317, 322] } },
  { title: 'F=85GHz', e: e85, h: h85, yTicks: yTicks60, xTicks: xTicks100, hColor: '#F79646',
    plot: [552, 449, 925, 651], frame: [475, 385, 945, 763], titlePos: [709, 412], wm1: [557, 470], wm2: [767, 639],
    leg: { y: 740, e: [681, 715, 720], h: [758, 792, 797] } },
  { title: 'F=90GHz', e: e90, h: h90, yTicks: yTicks60, xTicks: xTicks100, hColor: '#F79646',
    plot: [77, 833, 451, 1033], frame: [2, 770, 471, 1145], titlePos: [235, 796], wm1: [79, 852], wm2: [297, 1019],
    leg: { y: 1121, e: [203, 237, 242], h: [284, 318, 323] } },
  { title: 'F=95GHz', e: e95, h: h95, yTicks: yTicks50, xTicks: xTicks100, hColor: '#F79646',
    plot: [551, 833, 925, 1033], frame: [475, 770, 945, 1145], titlePos: [709, 796], wm1: [556, 853], wm2: [769, 1019],
    leg: { y: 1121, e: [676, 710, 715], h: [754, 788, 793] } },
  { title: 'F=100GHz', e: e100, h: h100, yTicks: yTicks50, xTicks: xTicks50, hColor: '#F38A34',
    plot: [79, 1212, 451, 1413], frame: [2, 1149, 471, 1525], titlePos: [236, 1174], wm1: [86, 1228], wm2: [294, 1393],
    leg: { y: 1500, e: [205, 239, 244], h: [286, 320, 325] } },
  { title: 'F=105GHz', e: e105, h: h105, yTicks: yTicks50, xTicks: xTicks50, hColor: '#F38A34',
    plot: [552, 1212, 924, 1413], frame: [475, 1149, 945, 1525], titlePos: [709, 1174], wm1: [557, 1231], wm2: [772, 1396],
    leg: { y: 1501, e: [681, 716, 721], h: [760, 795, 800] } },
  { title: 'F=110GHz', e: e110, h: h110, yTicks: yTicks50, xTicks: xTicks50, hColor: '#F38A34',
    plot: [78, 1593, 450, 1793], frame: [2, 1529, 471, 1906], titlePos: [235, 1557], wm1: [86, 1609], wm2: [296, 1776],
    leg: { y: 1882, e: [205, 239, 244], h: [285, 319, 324] } },
  { title: 'F=112GHz', e: e112, h: h112, yTicks: yTicks50, xTicks: xTicks50, hColor: '#F38A34',
    plot: [552, 1593, 924, 1793], frame: [475, 1529, 945, 1906], titlePos: [722, 1554], wm1: [561, 1609], wm2: [769, 1776],
    leg: { y: 1882, e: [681, 716, 721], h: [759, 793, 798] } },
];

const abs = (x: number, y: number): React.CSSProperties => ({ position: 'absolute', left: x, top: y, whiteSpace: 'nowrap', lineHeight: 1 });

function Panel({ p }: { p: Cfg }) {
  const [L, T, R, B] = p.plot;
  const yAxisW = 60, xAxisH = 34, padT = 12, padR = 20;
  const w = R - L + yAxisW + padR;
  const h = B - T + padT + xAxisH;
  const eData = p.e.map(([x, y]) => ({ x, y }));
  const hData = p.h.map(([x, y]) => ({ x, y }));
  const yMin = p.yTicks[0];
  const tick = { fill: TXT, fontSize: 13, fontFamily: FONT };
  const wm: React.CSSProperties = { fontFamily: '"DejaVu Sans", sans-serif', fontSize: 15, color: '#000', WebkitTextStroke: '0.35px #000', transform: 'translateY(-50%)' };
  const legText: React.CSSProperties = { fontFamily: FONT, fontSize: 14, color: TXT, transform: 'translateY(-50%)' };
  return (
    <>
      <div style={{ position: 'absolute', left: p.frame[0], top: p.frame[1], width: p.frame[2] - p.frame[0], height: p.frame[3] - p.frame[1], border: '1px solid #D9D9D9', boxSizing: 'border-box' }} />
      <div style={{ ...abs(p.titlePos[0], p.titlePos[1]), transform: 'translate(-50%,-50%)', fontFamily: FONT, fontSize: 19.5, color: TXT }}>{p.title}</div>
      <div style={{ position: 'absolute', left: L - yAxisW, top: T - padT }}>
        <LineChart width={w} height={h} margin={{ top: padT, right: padR, left: 0, bottom: 0 }}>
          <CartesianGrid stroke={GRID} strokeWidth={1} />
          <XAxis type="number" dataKey="x" domain={[-200, 200]} ticks={p.xTicks} interval={0} allowDataOverflow
            height={xAxisH} tickLine={false} tickSize={0} tickMargin={13} axisLine={{ stroke: '#BFBFBF' }} tick={tick} />
          <YAxis type="number" domain={[yMin, 30]} ticks={p.yTicks} interval={0} allowDataOverflow
            width={yAxisW} tickLine={false} tickSize={0} tickMargin={11} axisLine={false} tick={tick} />
          <Line data={eData} dataKey="y" type="monotoneX" stroke={E_COLOR} strokeWidth={2.7} dot={false} activeDot={false} isAnimationActive={false} />
          <Line data={hData} dataKey="y" type="monotoneX" stroke={p.hColor} strokeWidth={2.7} dot={false} activeDot={false} isAnimationActive={false} />
        </LineChart>
      </div>
      <div style={{ ...abs(p.wm1[0], p.wm1[1]), ...wm }}>www.com-mw.com</div>
      <div style={{ ...abs(p.wm2[0], p.wm2[1]), ...wm }}>www.dianzibuy.com</div>
      <div style={{ ...abs((L + R) / 2 + 3, B + 50.5), transform: 'translate(-50%,-50%)', fontFamily: FONT, fontSize: 14.5, color: TXT }}>Theta/Degree</div>
      <div style={{ ...abs(L - 46, (T + B) / 2 + 3), transform: 'translate(-50%,-50%) rotate(-90deg)', fontFamily: '"Noto Sans CJK SC", sans-serif', fontSize: 14, color: TXT }}>Amp（dB）</div>
      <div style={{ position: 'absolute', left: p.leg.e[0], top: p.leg.y - 1.25, width: p.leg.e[1] - p.leg.e[0], height: 2.5, background: E_COLOR }} />
      <div style={{ ...abs(p.leg.e[2], p.leg.y), ...legText }}>E</div>
      <div style={{ position: 'absolute', left: p.leg.h[0], top: p.leg.y - 1.25, width: p.leg.h[1] - p.leg.h[0], height: 2.5, background: p.hColor }} />
      <div style={{ ...abs(p.leg.h[2], p.leg.y), ...legText }}>H</div>
    </>
  );
}

export default function App() {
  return (
    <div style={{ position: 'relative', width: 946, height: 1908, background: '#fff', overflow: 'hidden', fontFamily: FONT }}>
      <style>{'body{margin:0;}'}</style>
      {panels.map((p) => <Panel key={p.title} p={p} />)}
    </div>
  );
}
